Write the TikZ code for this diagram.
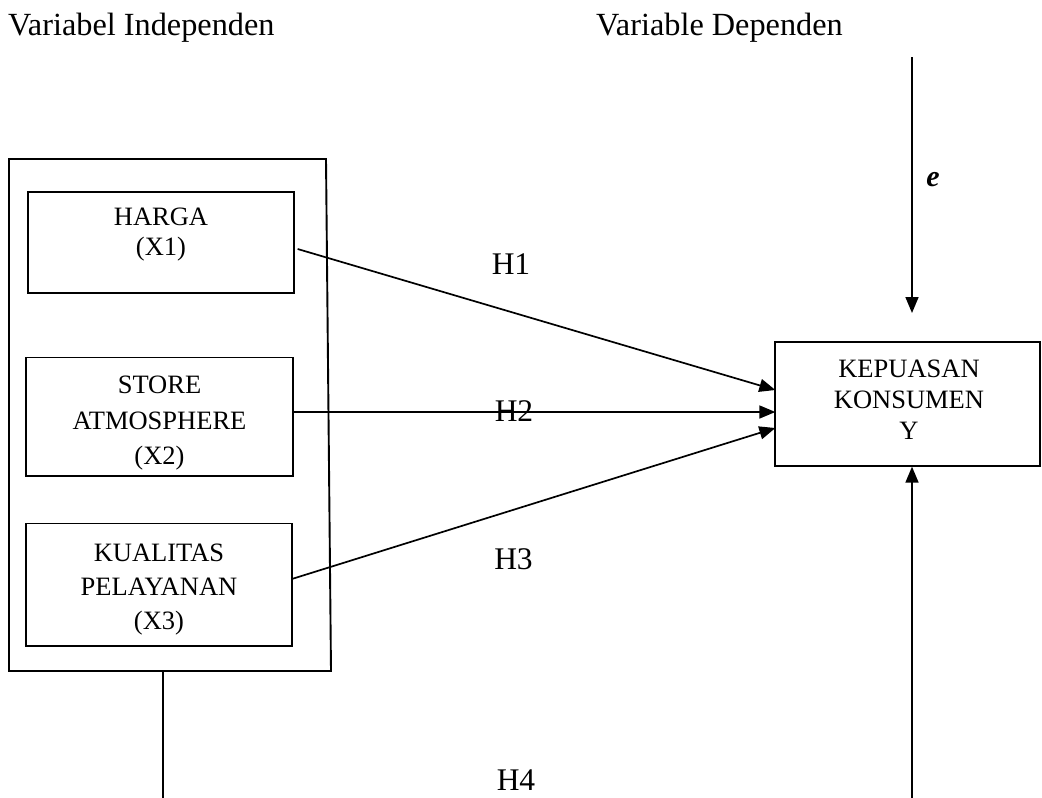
\documentclass[tikz,border=0pt]{standalone}
\usepackage{fontspec}
\setmainfont{Liberation Serif}
\usetikzlibrary{arrows.meta}
\begin{document}
\begin{tikzpicture}[x=1pt,y=-1pt,
  box/.style={draw,line width=1.3pt,inner sep=0pt},
  lbl/.style={anchor=base,inner sep=0pt,font=\fontsize{26.5}{30}\selectfont},
  big/.style={anchor=base,inner sep=0pt,font=\fontsize{31.5}{36}\selectfont},
  ttl/.style={anchor=base west,inner sep=0pt,font=\fontsize{32.3}{36}\selectfont},
  arr/.style={line width=1.7pt,-{Triangle[length=16pt,width=13pt]}},
  ln/.style={line width=1.6pt}]
\useasboundingbox (0,0) rectangle (1042,798);

% titles
\node[ttl] (t1) at (8,35) {Variabel Independen};
\node[ttl] (t2) at (596,35) {Variable Dependen};

% outer frame
\draw[line width=1.9pt] (9,159) -- (326,159) -- (331,671) -- (9,671) -- cycle;

% boxes
\node[box,minimum width=266pt,minimum height=101pt] (harga) at (161,242.5) {};
\node[box,minimum width=267pt,minimum height=118.5pt] (store) at (159.5,416.75) {};
\node[box,minimum width=266pt,minimum height=122.5pt] (kual) at (159,584.75) {};
\node[box,minimum width=265pt,minimum height=124pt] (kep) at (907.5,404) {};

% box texts
\node[lbl] (ha1) at (161,225) {HARGA};
\node[lbl] (ha2) at (161,255) {(X1)};
\node[lbl] (st1) at (159.5,393.5) {STORE};
\node[lbl] (st2) at (159.5,429.5) {ATMOSPHERE};
\node[lbl] (st3) at (159.5,464) {(X2)};
\node[lbl] (ku1) at (159,561) {KUALITAS};
\node[lbl] (ku2) at (159,595) {PELAYANAN};
\node[lbl] (ku3) at (159,629.5) {(X3)};
\node[lbl] (ke1) at (909,377.5) {KEPUASAN};
\node[lbl] (ke2) at (909,408.5) {KONSUMEN};
\node[lbl] (ke3) at (909,439) {Y};

% hypothesis labels
\node[big] (H1) at (511,274) {H1};
\node[big] (H2) at (514,421.5) {H2};
\node[big] (H3) at (513.5,569) {H3};
\node[big] (H4) at (516,790) {H4};

% arrows
\draw[arr] ([xshift=3pt,yshift=-6.5pt]harga.east) -- ([xshift=1pt,yshift=14pt]kep.west);
\draw[arr] ([yshift=4.75pt]store.east) -- ([xshift=1pt,yshift=-8pt]kep.west);
\draw[arr] ([yshift=6pt]kual.east) -- ([xshift=1pt,yshift=-24pt]kep.west);

% error term
\coordinate (etop) at (912,57);
\coordinate (eend) at (912,313);
\draw[arr] (etop) -- (eend);
\node[anchor=base,inner sep=0pt,font=\fontsize{30}{34}\selectfont\bfseries\itshape] (e) at (933,186) {e};

% H4 path
\coordinate (fb) at (163,671);
\coordinate (fbe) at (163,798);
\draw[ln] (fb) -- (fbe);
\coordinate (bot) at (912,798);
\draw[arr] (bot) -- (bot |- kep.south);
\end{tikzpicture}
\end{document}
